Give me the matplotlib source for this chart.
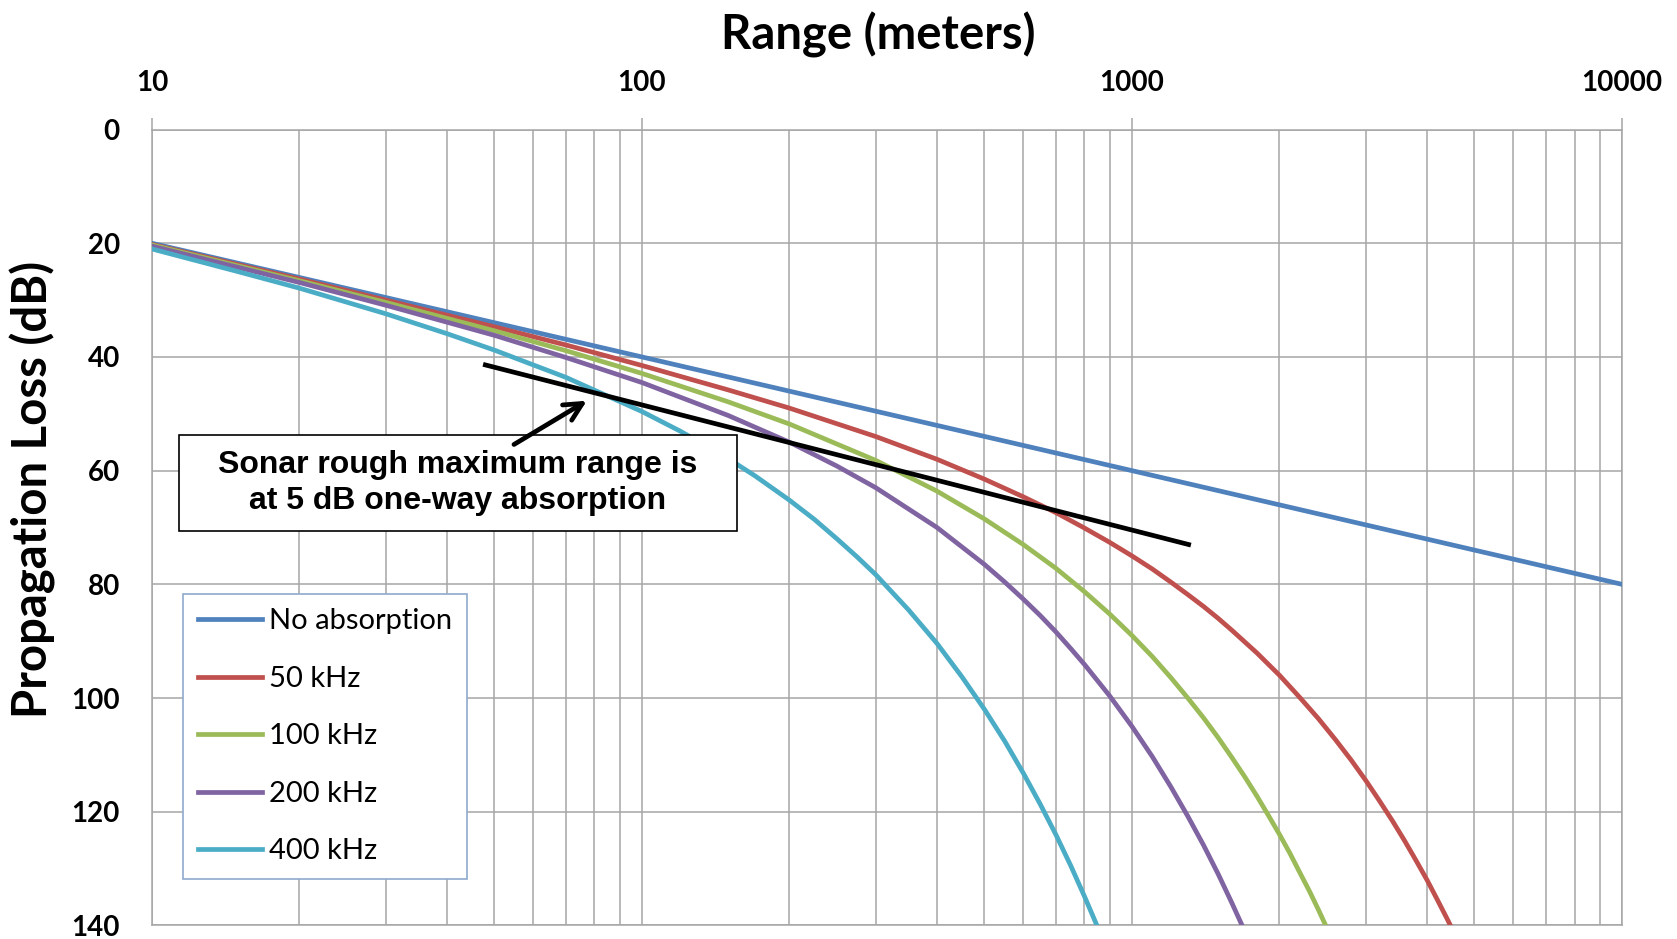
import numpy as np
import matplotlib
matplotlib.use("Agg")
import matplotlib.pyplot as plt
from matplotlib.patches import Rectangle

# Values (range in meters, loss in dB)
no_abs_range = [10, 100, 1000, 10000]
no_abs_loss = [20.0, 40.0, 60.0, 80.0]

khz50_range = [10, 20, 30, 50, 70, 100, 150, 200, 300, 400, 500, 600, 700, 800, 900,
               1000, 1100, 1200, 1300, 1400, 1500, 1600, 1800, 2000, 2200, 2400, 2600,
               2800, 3000, 3200, 3400, 3600, 3800, 4000, 4200, 4400, 4500]
khz50_loss = [20.2, 26.3, 30.0, 34.7, 37.9, 41.5, 45.8, 49.0, 54.0, 58.0, 61.5, 64.6,
              67.4, 70.1, 72.6, 75.0, 77.3, 79.6, 81.8, 83.9, 86.0, 88.1, 92.1, 96.0,
              99.9, 103.6, 107.3, 110.9, 114.5, 118.1, 121.6, 125.1, 128.6, 132.0,
              135.5, 138.9, 140.6]

khz100_range = [10, 20, 30, 50, 70, 100, 150, 200, 300, 400, 500, 600, 700, 800, 900,
                1000, 1100, 1200, 1300, 1400, 1500, 1600, 1700, 1800, 1900, 2000, 2100,
                2200, 2300, 2400, 2500]
khz100_loss = [20.3, 26.6, 30.4, 35.4, 38.9, 42.9, 47.9, 51.8, 58.2, 63.6, 68.5, 73.0,
               77.2, 81.3, 85.2, 89.0, 92.7, 96.4, 100.0, 103.5, 107.0, 110.5, 113.9,
               117.3, 120.7, 124.0, 127.3, 130.7, 133.9, 137.2, 140.5]

khz200_range = [10, 20, 30, 50, 70, 100, 150, 200, 250, 300, 400, 500, 550, 600, 650,
                700, 750, 800, 900, 1000, 1100, 1200, 1300, 1400, 1500, 1600, 1700]
khz200_loss = [20.5, 26.9, 30.9, 36.2, 40.1, 44.5, 50.3, 55.0, 59.2, 63.0, 70.0, 76.5,
               79.6, 82.6, 85.5, 88.4, 91.3, 94.1, 99.6, 105.0, 110.3, 115.6, 120.8,
               125.9, 131.0, 136.1, 141.1]

khz400_range = [10, 15, 20, 30, 40, 50, 70, 100, 120, 150, 170, 200, 225, 250, 275,
                300, 350, 400, 450, 500, 550, 600, 650, 700, 750, 800, 850]
khz400_loss = [21.0, 25.0, 27.9, 32.4, 35.9, 38.8, 43.6, 49.6, 53.1, 57.9, 60.9, 65.2,
               68.6, 72.0, 75.2, 78.3, 84.5, 90.4, 96.3, 102.0, 107.6, 113.2, 118.7,
               124.1, 129.5, 134.9, 140.2]

series_labels = ["No absorption", "50 kHz", "100 kHz", "200 kHz", "400 kHz"]
series_colors = ["#4F81BD", "#C0504D", "#9BBB59", "#8064A2", "#4BACC6"]

# 5 dB one-way absorption marker line and arrow (data coords)
marker_x = [47.4, 1319]
marker_y = [41.3, 73.1]
arrow_tail = (54.8, 55.4)
arrow_head = (77.2, 47.7)

x_ticks = [10, 100, 1000, 10000]
y_ticks = [0, 20, 40, 60, 80, 100, 120, 140]

grid_color = "#A6A6A6"

fig = plt.figure(figsize=(16.77, 9.39), dpi=100)
ax = fig.add_axes([0.0906, 0.0145, 0.8766, 0.8475])

series = [(no_abs_range, no_abs_loss), (khz50_range, khz50_loss),
          (khz100_range, khz100_loss), (khz200_range, khz200_loss),
          (khz400_range, khz400_loss)]
for (r, loss), lab, col in zip(series, series_labels, series_colors):
    ax.plot(r, loss, color=col, lw=3.4, label=lab, solid_joinstyle="round", zorder=3)

ax.set_xscale("log")
ax.set_xlim(10, 10000)
ax.set_ylim(140, 0)
ax.set_xticks(x_ticks)
ax.set_xticklabels([str(t) for t in x_ticks])
ax.set_yticks(y_ticks)
ax.xaxis.set_minor_locator(matplotlib.ticker.LogLocator(base=10, subs=np.arange(2, 10)))
ax.xaxis.set_minor_formatter(matplotlib.ticker.NullFormatter())

ax.grid(True, which="both", axis="x", color=grid_color, lw=1.1, zorder=0)
ax.grid(True, which="major", axis="y", color=grid_color, lw=1.1, zorder=0)
ax.set_axisbelow(True)
for sp in ax.spines.values():
    sp.set_color(grid_color)
    sp.set_linewidth(1.1)

ax.xaxis.tick_top()
ax.tick_params(axis="x", which="major", length=8.5, width=1.1, color=grid_color, pad=16,
               labelsize=20, labelcolor="black")
ax.tick_params(axis="x", which="minor", length=0)
ax.tick_params(axis="y", length=0, pad=23, labelsize=20, labelcolor="black")
for lbl in ax.get_xticklabels() + ax.get_yticklabels():
    lbl.set_fontfamily("Lato")
    lbl.set_fontweight("bold")

ax.set_xlabel("Range (meters)", fontsize=34, fontweight="bold", family="Lato")
ax.xaxis.set_label_position("top")
ax.xaxis.set_label_coords(0.494, 1.119)
ax.xaxis.label.set_va("center")
ax.set_ylabel("Propagation Loss (dB)", fontsize=34, fontweight="bold", family="Lato")
ax.yaxis.set_label_coords(-0.081, 0.548)
ax.yaxis.label.set_va("center")

# annotation line + arrow
ax.plot(marker_x, marker_y, color="black", lw=3.4, zorder=4, solid_capstyle="butt")
ax.annotate("", xy=arrow_head, xytext=arrow_tail,
            arrowprops=dict(arrowstyle="->", lw=3.4, color="black", mutation_scale=32,
                            shrinkA=0, shrinkB=0), zorder=6)

# annotation box
box = Rectangle((0.0184, 0.4957), 0.3796, 0.1203, transform=ax.transAxes,
                facecolor="white", edgecolor="black", lw=1.2, zorder=5)
ax.add_patch(box)
ax.text(0.208, 0.556, "Sonar rough maximum range is\nat 5 dB one-way absorption",
        transform=ax.transAxes, ha="center", va="center", fontsize=23,
        fontweight="bold", family="Liberation Sans", linespacing=1.25, zorder=7)

leg = ax.legend(loc="lower left", bbox_to_anchor=(0.0211, 0.0583), borderaxespad=0,
                prop={"family": "Lato", "size": 21}, handlelength=2.2,
                handletextpad=0.25, labelspacing=1.08, borderpad=0.5,
                fancybox=False, framealpha=1, edgecolor="#8FAACC")
leg.get_frame().set_linewidth(1.2)
leg.set_zorder(8)

fig.savefig("out.png", dpi=100)
